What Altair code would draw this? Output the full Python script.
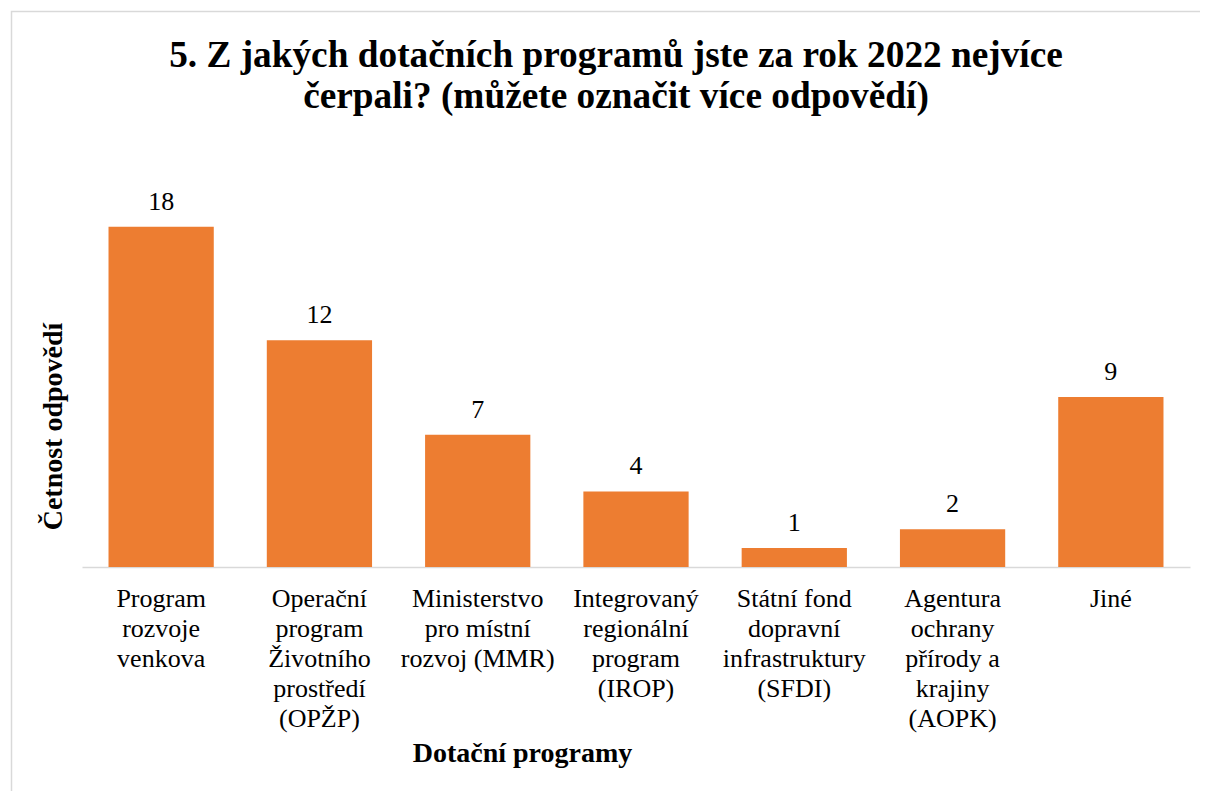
import altair as alt
import pandas as pd

categories = [
    "Program|rozvoje|venkova",
    "Operační|program|Životního|prostředí|(OPŽP)",
    "Ministerstvo|pro místní|rozvoj (MMR)",
    "Integrovaný|regionální|program|(IROP)",
    "Státní fond|dopravní|infrastruktury|(SFDI)",
    "Agentura|ochrany|přírody a|krajiny|(AOPK)",
    "Jiné",
]
values = [18, 12, 7, 4, 1, 2, 9]

title_lines = [
    "5. Z jakých dotačních programů jste za rok 2022 nejvíce",
    "čerpali? (můžete označit více odpovědí)",
]
x_title = "Dotační programy"
y_title = "Četnost odpovědí"

df = pd.DataFrame({"program": categories, "count": values})

FONT = "Liberation Serif, Times New Roman, Times, serif"
BAR = "#ED7D31"

base = alt.Chart(df)

x = alt.X(
    "program:N",
    sort=None,
    scale=alt.Scale(paddingInner=0.335, paddingOuter=0.1675),
    axis=alt.Axis(
        title=x_title,
        labelAngle=0,
        labelExpr="split(datum.label, '|')",
        labelFont=FONT,
        labelFontSize=26,
        labelLineHeight=30,
        labelColor="#000000",
        labelPadding=18,
        labelBaseline="top",
        ticks=False,
        domainColor="#d9d9d9",
        domainWidth=1.5,
        titleFont=FONT,
        titleFontSize=28,
        titleFontWeight="bold",
        titleColor="#000000",
        titleX=440,
        titleY=186,
        titleAlign="center",
        titleBaseline="middle",
    ),
)
y = alt.Y(
    "count:Q",
    scale=alt.Scale(domain=[0, 20], nice=False),
    axis=alt.Axis(
        title=y_title,
        labels=False,
        ticks=False,
        domain=False,
        grid=False,
        titleFont=FONT,
        titleFontSize=28,
        titleFontWeight="bold",
        titleColor="#000000",
        titleAngle=270,
        titleX=-29,
        titleY=237,
        titleAlign="center",
        titleBaseline="middle",
    ),
)

bars = base.mark_bar(color=BAR).encode(x=x, y=y)
labels = base.mark_text(
    font=FONT, fontSize=26, color="#000000", baseline="alphabetic", dy=-17
).encode(x=x, y=y, text="count:Q")

border = alt.Chart(pd.DataFrame({"a": [0]})).mark_rect(
    fill=None, stroke="#d9d9d9", strokeWidth=1.5
).encode(
    x=alt.value(-70.5),
    x2=alt.value(1250),
    y=alt.value(-177.5),
    y2=alt.value(800),
)

chart = (
    alt.layer(border, bars, labels)
    .properties(
        width=1108,
        height=378,
        background="white",
        autosize=alt.AutoSizeParams(type="none"),
        padding={"left": 74, "top": 181, "right": 10, "bottom": 224},
        title=alt.Title(
            text=title_lines,
            font=FONT,
            fontSize=37.3,
            fontWeight="bold",
            color="#000000",
            lineHeight=41,
            anchor="middle",
            dx=-20,
            offset=0,
            dy=106,
        ),
    )
    .configure_view(stroke="transparent", strokeWidth=0)
)

chart.save("out.html", embed_options={"renderer": "svg", "actions": False})
